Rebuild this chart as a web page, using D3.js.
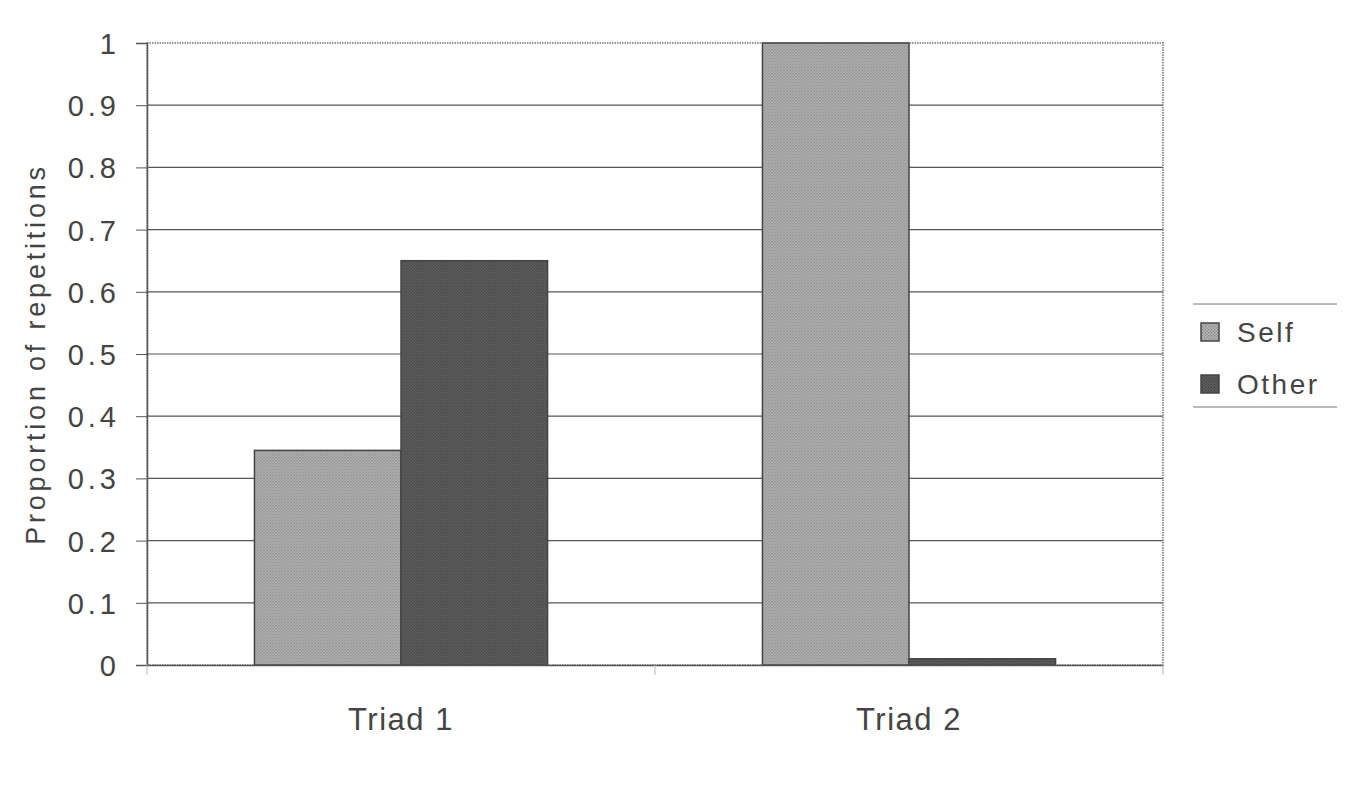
<!DOCTYPE html>
<html>
<head>
<meta charset="utf-8">
<script src="https://cdn.jsdelivr.net/npm/d3@7"></script>
<style>
  body { margin: 0; background: #fff; }
  text { font-family: "Liberation Sans", Arial, sans-serif; fill: #444; }
</style>
</head>
<body>
<div id="chart"></div>
<script>
// data
var categories = ["Triad 1", "Triad 2"];
var seriesNames = ["Self", "Other"];
var selfValues = [0.345, 1.0];
var otherValues = [0.65, 0.01];
var yTicks = [0, 0.1, 0.2, 0.3, 0.4, 0.5, 0.6, 0.7, 0.8, 0.9, 1];

var margin = {top: 43, right: 184, bottom: 145, left: 147},
    width = 1347 - margin.left - margin.right,
    height = 810 - margin.top - margin.bottom;

var svg = d3.select("#chart").append("svg")
    .attr("width", 1347)
    .attr("height", 810);

// stipple patterns
var defs = svg.append("defs");
function stipple(id, bg, dot) {
    var p = defs.append("pattern")
        .attr("id", id)
        .attr("width", 3).attr("height", 3)
        .attr("patternUnits", "userSpaceOnUse");
    p.append("rect").attr("width", 3).attr("height", 3).attr("fill", bg);
    p.append("rect").attr("x", 0).attr("y", 0).attr("width", 1.3).attr("height", 1.3).attr("fill", dot);
    p.append("rect").attr("x", 1.5).attr("y", 1.5).attr("width", 1.3).attr("height", 1.3).attr("fill", dot);
}
stipple("pSelf", "#bdbdbd", "#7c7c7c");
stipple("pOther", "#666", "#393939");
var fills = {Self: "url(#pSelf)", Other: "url(#pOther)"};

var g = svg.append("g")
    .attr("transform", "translate(" + margin.left + "," + margin.top + ")");

var x0 = d3.scaleBand().domain(categories).range([0, width])
    .paddingInner(0.423).paddingOuter(0.2115);
var x1 = d3.scaleBand().domain(seriesNames).range([0, x0.bandwidth()]);
var y = d3.scaleLinear().domain([0, 1]).range([height, 0]);

// gridlines
g.selectAll(".grid").data(yTicks.slice(1, -1)).enter().append("line")
    .attr("x1", 0).attr("x2", width)
    .attr("y1", d => y(d)).attr("y2", d => y(d))
    .attr("stroke", "#555").attr("stroke-width", 1.2);

// plot frame (dotted)
g.append("rect")
    .attr("width", width).attr("height", height)
    .attr("fill", "none").attr("stroke", "#777")
    .attr("stroke-width", 1.5).attr("stroke-dasharray", "1.5,1");

// bars
var rows = categories.map((c, i) => ({cat: c, vals: [
    {key: "Self", value: selfValues[i]},
    {key: "Other", value: otherValues[i]}
]}));

g.selectAll(".grp").data(rows).enter().append("g")
    .attr("transform", d => "translate(" + x0(d.cat) + ",0)")
    .selectAll("rect").data(d => d.vals).enter().append("rect")
    .attr("x", d => x1(d.key))
    .attr("y", d => y(d.value))
    .attr("width", x1.bandwidth())
    .attr("height", d => height - y(d.value))
    .attr("fill", d => fills[d.key])
    .attr("stroke", "#444").attr("stroke-width", 1.5);

// y axis
var yAxis = g.append("g")
    .call(d3.axisLeft(y).tickValues(yTicks).tickSize(11).tickPadding(16)
        .tickFormat(d => d === 0 || d === 1 ? d3.format("d")(d) : d3.format(".1f")(d)));
yAxis.select(".domain").attr("stroke", "#555").attr("stroke-width", 1.5);
yAxis.selectAll(".tick line").attr("stroke", "#555");
yAxis.selectAll("text").style("font-size", "29px").style("letter-spacing", "4px")
    .attr("fill", "#444").attr("dy", "0.36em");

// x axis
var xAxis = g.append("g")
    .attr("transform", "translate(0," + height + ")")
    .call(d3.axisBottom(x0).tickSize(0).tickPadding(43));
xAxis.select(".domain").attr("stroke", "#555").attr("stroke-width", 1.5);
xAxis.selectAll("text").style("font-size", "31px").style("letter-spacing", "1.5px").attr("fill", "#444");

// category separator ticks
g.selectAll(".ctick").data([0, width / 2, width]).enter().append("line")
    .attr("x1", d => d).attr("x2", d => d)
    .attr("y1", height).attr("y2", height + 10)
    .attr("stroke", "#bbb").attr("stroke-width", 1);

// y axis title
svg.append("text")
    .attr("transform", "translate(45," + (margin.top + height / 2) + ") rotate(-90)")
    .attr("text-anchor", "middle")
    .style("font-size", "27px")
    .style("letter-spacing", "3.8px")
    .text("Proportion of repetitions");

// legend
var lg = svg.append("g").attr("transform", "translate(1193,304)");
lg.append("line").attr("x1", 0).attr("x2", 144).attr("y1", 0).attr("y2", 0)
    .attr("stroke", "#777").attr("stroke-width", 1);
lg.append("line").attr("x1", 0).attr("x2", 144).attr("y1", 103).attr("y2", 103)
    .attr("stroke", "#777").attr("stroke-width", 1);
var items = lg.selectAll(".item").data(seriesNames).enter().append("g")
    .attr("transform", (d, i) => "translate(0," + (28 + i * 52) + ")");
items.append("rect")
    .attr("x", 8).attr("y", -9).attr("width", 18).attr("height", 18)
    .attr("fill", d => fills[d]).attr("stroke", "#444").attr("stroke-width", 1.5);
items.append("text")
    .attr("x", 44).attr("y", 0).attr("dy", "0.36em")
    .style("font-size", "28px")
    .style("letter-spacing", "2.5px")
    .text(d => d);
</script>
</body>
</html>
